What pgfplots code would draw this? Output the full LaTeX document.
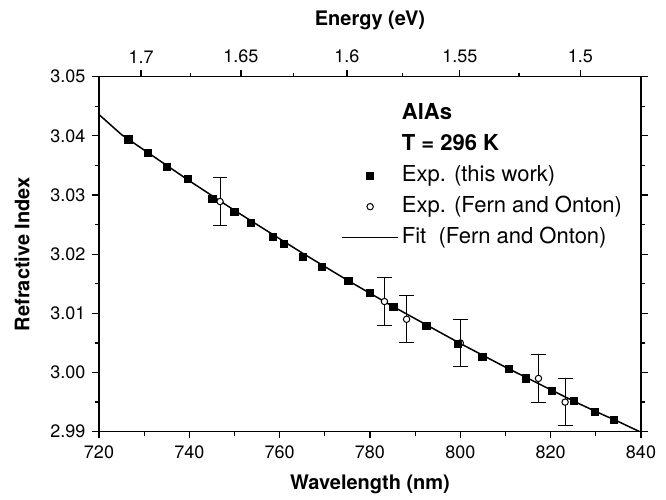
\documentclass[border=0pt]{standalone}
\usepackage{fontspec}
\setmainfont{TeX Gyre Heros}
\usepackage{pgfplots}
\pgfplotsset{compat=1.18}
\usetikzlibrary{calc}

% measured squares (this work)
\pgfplotstableread{
lam n
726.5 3.0394
730.9 3.0371
735.0 3.0348
739.6 3.0327
745.1 3.0293
750.0 3.0271
753.7 3.0253
758.5 3.0229
761.0 3.0218
765.2 3.0195
769.3 3.0178
775.2 3.0155
780.0 3.0134
785.2 3.0111
792.5 3.0079
799.5 3.0048
804.9 3.0027
810.7 3.0006
814.5 2.9990
820.2 2.9969
825.2 2.9952
829.8 2.9934
834.0 2.9920
}\thiswork
% Fern and Onton points with error bars
\pgfplotstableread{
lam n err
746.8 3.0289 0.004
783.2 3.0120 0.004
788.1 3.0090 0.004
800.0 3.0050 0.004
817.3 2.9990 0.004
823.2 2.9950 0.004
}\fern
% fit curve (Fern and Onton)
\pgfplotstableread{
lam n
720 3.0436
725 3.0402
730 3.0376
735 3.0350
740 3.0324
745 3.0299
750 3.0274
755 3.0250
760 3.0226
765 3.0202
770 3.0179
775 3.0156
780 3.0134
785 3.0112
790 3.0091
795 3.0070
800 3.0049
805 3.0029
810 3.0009
815 2.9990
820 2.9971
825 2.9952
830 2.9934
835 2.9917
840 2.9899
}\fit

\begin{document}
\begin{tikzpicture}
\pgfplotsset{
  every axis/.append style={
    scale only axis, width=271pt, height=177.5pt,
    xmin=720, xmax=840, ymin=2.99, ymax=3.05,
    tick align=outside,
    major tick length=3.3pt, minor tick length=2pt,
    every tick/.style={black, line width=0.6pt},
    axis line style={line width=0.75pt},
    tick label style={font=\fontsize{9}{10}\selectfont},
    label style={font=\fontsize{11.7}{13}\selectfont},
    /pgf/number format/assume math mode=true,
  }
}
\begin{axis}[
  name=main,
  xtick={720,740,...,840}, minor xtick={730,750,...,830},
  ytick={2.99,3.00,...,3.05}, minor ytick={2.995,3.005,...,3.045},
  xtick pos=bottom, ytick pos=both, yticklabel pos=left,
  yticklabel style={/pgf/number format/.cd, fixed, fixed zerofill, precision=2},
  xlabel={\textbf{Wavelength (nm)}}, ylabel={\textbf{Refractive Index}},
  every axis x label/.style={at={(axis description cs:0.5,-0.149)}, anchor=center},
  every axis y label/.style={at={(axis description cs:-0.142,0.5)}, rotate=90, anchor=center},
  legend image code/.code={\draw[mark repeat=2,mark phase=2,#1] plot coordinates {(0pt,0pt) (14pt,0pt) (28pt,0pt)};},
  legend cell align=left,
  legend style={draw=none, fill=none, at={(axis description cs:0.4465,0.935)}, anchor=north west,
    font=\fontsize{11}{12}\selectfont, row sep=2pt, inner sep=0pt,
    nodes={inner sep=1.5pt, text height=8pt, text depth=2.5pt}},
]
\addlegendimage{empty legend}
\addlegendentry{\textbf{AlAs}}
\addlegendimage{empty legend}
\addlegendentry{\textbf{T = 296 K}}
\addplot[black, line width=0.75pt, forget plot] table[x=lam, y=n] {\fit};
\addplot[black, line width=0.5pt, only marks, mark=*, mark size=1.6pt, mark options={fill=white, line width=0.5pt},
  forget plot,
  error bars/.cd, y dir=both, y explicit, error mark=-,
  error mark options={rotate=90, mark size=3.7pt, line width=0.5pt},
  error bar style={line width=0.5pt}]
  table[x=lam, y=n, y error=err] {\fern};
\addplot[black, only marks, mark=square*, mark size=1.8pt] table[x=lam, y=n] {\thiswork};
\addlegendentry{Exp. (this work)}
\addlegendimage{black, only marks, mark=*, mark size=1.6pt, mark options={fill=white, line width=0.5pt}}
\addlegendentry{Exp. (Fern and Onton)}
\addlegendimage{black, line width=0.75pt}
\addlegendentry{Fit\ \ (Fern and Onton)}
\end{axis}
\begin{axis}[
  axis x line*=top, axis y line=none,
  xtick={729.32,751.42,774.90,799.90,826.56},
  xticklabels={1.7,1.65,1.6,1.55,1.5},
  minor xtick={740.20,762.98,787.20,813.01},
  xlabel={\textbf{Energy (eV)}},
  every axis x label/.style={at={(axis description cs:0.5,1.158)}, anchor=center},
]
\addplot[draw=none] coordinates {(720,3.0) (840,3.0)};
\end{axis}
\pgfresetboundingbox
\useasboundingbox ($(main.south west)+(-49.5pt,-33.85pt)$) rectangle ($(main.north east)+(12.5pt,38.35pt)$);
\end{tikzpicture}
\end{document}
